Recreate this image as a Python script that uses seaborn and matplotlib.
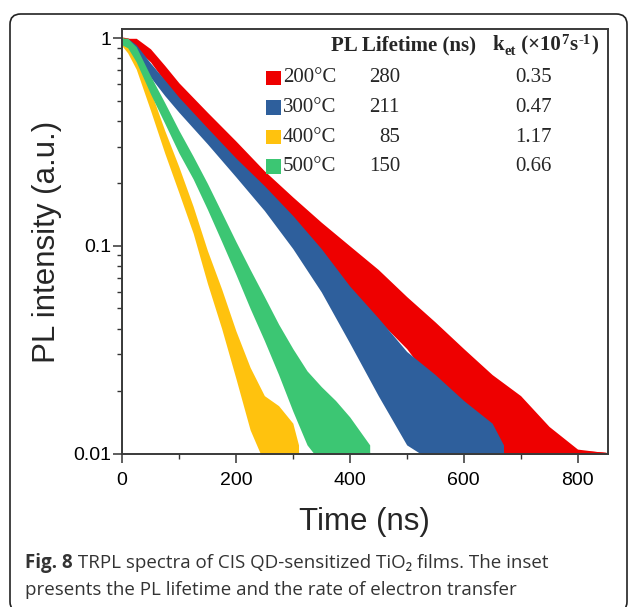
'''
    plot.py
    TRPL decay curves of CIS QD-sensitized TiO2 films (Fig. 8).
'''
import pandas as pd
import seaborn as sns
import matplotlib
matplotlib.use('Agg')
import matplotlib.pyplot as plt
from matplotlib.patches import Rectangle, FancyBboxPatch
from matplotlib.ticker import LogLocator, NullFormatter

#################################################################################
# Data (time in ns, normalised PL intensity)
#################################################################################

temps = ['200°C', '300°C', '400°C', '500°C']
lifetimes = ['280', '211', '85', '150']
k_et = ['0.35', '0.47', '1.17', '0.66']
colors = ['#EE0000', '#2E5F9C', '#FFC20E', '#3CC673']

# 200 C
t_200 = [0, 0, 10, 25, 50, 75, 100, 150, 200, 250, 300, 350, 400, 450, 500,
         550, 600, 650, 700, 750, 800, 850]
mid_200 = [0.008, 1.0, 0.99, 0.95, 0.83, 0.68, 0.56, 0.40, 0.28, 0.195, 0.14,
           0.105, 0.078, 0.059, 0.045, 0.033, 0.022, 0.017, 0.014, 0.011,
           0.0102, 0.010]
hi_200 = [0.008, 1.0, 1.0, 1.0, 0.89, 0.74, 0.61, 0.44, 0.32, 0.23, 0.172,
          0.13, 0.10, 0.077, 0.057, 0.043, 0.032, 0.024, 0.019, 0.0135, 0.0105,
          0.0101]
lo_200 = [0.008, 0.95, 0.95, 0.89, 0.77, 0.62, 0.51, 0.36, 0.245, 0.165, 0.115,
          0.082, 0.06, 0.044, 0.032, 0.021, 0.012, 0.009, 0.009, 0.009, 0.009,
          0.009]

# 300 C
t_300 = [0, 0, 10, 25, 50, 75, 100, 150, 200, 250, 300, 350, 400, 450, 500,
         550, 600, 650, 670]
mid_300 = [0.008, 1.0, 0.95, 0.87, 0.71, 0.58, 0.48, 0.34, 0.24, 0.17, 0.118,
           0.078, 0.048, 0.031, 0.020, 0.016, 0.013, 0.011, 0.010]
hi_300 = [0.008, 1.0, 1.0, 0.93, 0.76, 0.63, 0.52, 0.37, 0.265, 0.195, 0.14,
          0.097, 0.064, 0.045, 0.031, 0.024, 0.018, 0.014, 0.011]
lo_300 = [0.008, 0.92, 0.89, 0.81, 0.65, 0.53, 0.44, 0.31, 0.215, 0.148, 0.097,
          0.060, 0.034, 0.019, 0.011, 0.009, 0.009, 0.009, 0.009]

# 400 C
t_400 = [0, 0, 10, 25, 50, 75, 100, 125, 150, 175, 200, 225, 250, 275, 300, 310]
mid_400 = [0.008, 1.0, 0.92, 0.78, 0.50, 0.32, 0.21, 0.135, 0.08, 0.05, 0.030,
           0.019, 0.014, 0.012, 0.011, 0.010]
hi_400 = [0.008, 1.0, 1.0, 0.85, 0.56, 0.36, 0.24, 0.155, 0.095, 0.062, 0.039,
          0.026, 0.019, 0.017, 0.014, 0.011]
lo_400 = [0.008, 0.92, 0.85, 0.71, 0.45, 0.28, 0.18, 0.115, 0.066, 0.040, 0.023,
          0.013, 0.009, 0.009, 0.009, 0.009]

# 500 C
t_500 = [0, 0, 10, 25, 50, 75, 100, 125, 150, 175, 200, 225, 250, 275, 300,
         325, 350, 375, 400, 435]
mid_500 = [0.008, 1.0, 0.95, 0.84, 0.60, 0.44, 0.32, 0.24, 0.175, 0.125, 0.088,
           0.063, 0.045, 0.032, 0.023, 0.017, 0.014, 0.012, 0.011, 0.010]
hi_500 = [0.008, 1.0, 1.0, 0.91, 0.66, 0.49, 0.36, 0.27, 0.20, 0.145, 0.105,
          0.077, 0.057, 0.042, 0.032, 0.025, 0.021, 0.018, 0.015, 0.011]
lo_500 = [0.008, 0.93, 0.90, 0.77, 0.54, 0.39, 0.28, 0.21, 0.15, 0.105, 0.073,
          0.050, 0.035, 0.024, 0.016, 0.011, 0.009, 0.009, 0.009, 0.009]

caption_bold = 'Fig. 8'
caption_1 = ' TRPL spectra of CIS QD-sensitized TiO\u2082 films. The inset'
caption_2 = 'presents the PL lifetime and the rate of electron transfer'

#################################################################################
# Plot
#################################################################################

W, H = 629, 607


def fx(px):
    return px / W


def fy(py):
    return 1 - py / H


sns.set_style('ticks')
plt.rcParams['font.family'] = ['Liberation Sans', 'DejaVu Sans']

series = [(t_200, mid_200, hi_200, lo_200),
          (t_300, mid_300, hi_300, lo_300),
          (t_400, mid_400, hi_400, lo_400),
          (t_500, mid_500, hi_500, lo_500)]
frames = []
for name, (t, mid, hi, lo) in zip(temps, series):
    frames.append(pd.DataFrame({'time': t, 'intensity': mid, 'hi': hi,
                                'lo': lo, 'sample': name}))
df = pd.concat(frames, ignore_index=True)
palette = dict(zip(temps, colors))

fig = plt.figure(figsize=(W / 100, H / 100), dpi=100)
ax = fig.add_axes([fx(122), fy(453.5), fx(607.7) - fx(122),
                   fy(29.3) - fy(453.5)])

# noise band of each decay, then the trace itself (gives the rise at t=0)
for i, name in enumerate(temps):
    sub = df[df['sample'] == name]
    ax.fill_between(sub['time'], sub['lo'], sub['hi'], color=palette[name],
                    lw=0, zorder=2 + i)
    sns.lineplot(data=sub, x='time', y='intensity', color=palette[name],
                 sort=False, estimator=None, lw=1.3, ax=ax, legend=False,
                 zorder=2 + i)

ax.set_yscale('log')
ax.set_xlim(0, 853)
ax.set_ylim(0.01, 1.105)
ax.set_xticks([0, 200, 400, 600, 800])
ax.set_xticks([100, 300, 500, 700], minor=True)
ax.set_yticks([0.01, 0.1, 1])
ax.set_yticklabels(['0.01', '0.1', '1'])
ax.yaxis.set_minor_locator(LogLocator(base=10, subs=range(2, 10)))
ax.yaxis.set_minor_formatter(NullFormatter())

ax.tick_params(axis='both', which='major', direction='out', length=6.5,
               width=1.1, color='#333333', labelsize=14, labelcolor='black')
ax.tick_params(axis='x', which='major', pad=7)
ax.tick_params(axis='y', which='major', pad=1.5)
ax.tick_params(axis='both', which='minor', direction='out', length=3.6,
               width=1.0, color='#333333')
for sp in ax.spines.values():
    sp.set_linewidth(1.4)
    sp.set_color('#3a3a3a')
    sp.set_visible(True)
    sp.set_zorder(10)

ax.set_xlabel('Time (ns)', fontsize=22.5, labelpad=12.5)
ax.set_ylabel('PL intensity (a.u.)', fontsize=22.5, labelpad=7.5)

# inset table in place of a legend
serif = ['Liberation Serif', 'DejaVu Serif']
fs = 15
fig.text(fx(331), fy(45), 'PL Lifetime (ns)', family=serif, weight='bold',
         fontsize=fs, va='center', ha='left')
row_y = [78, 107.5, 137, 166.5]
for y, name, lt, k, c in zip(row_y, temps, lifetimes, k_et, colors):
    fig.patches.append(Rectangle((fx(266), fy(y + 7)), fx(15), 14 / H,
                                 transform=fig.transFigure, color=c, lw=0))
    fig.text(fx(283), fy(y), name, family=serif, fontsize=fs, va='center',
             ha='left')
    fig.text(fx(400), fy(y), lt, family=serif, fontsize=fs, va='center',
             ha='right')
    fig.text(fx(552), fy(y), k, family=serif, fontsize=fs, va='center',
             ha='right')

# k_et header, built piece by piece for the sub/superscripts
renderer = fig.canvas.get_renderer()
x_pos = 492
base = 50.5
pieces = [('k', fs, 0), ('et', 10.5, 4.5), (' (\u00d710', fs, 0),
          ('7', 10.5, -6), ('s', fs, 0), ('-1', 10.5, -6), (')', fs, 0)]
for txt, size, dy in pieces:
    tt = fig.text(fx(x_pos), fy(base + dy), txt, family=serif, weight='bold',
                  fontsize=size, va='baseline', ha='left')
    x_pos = tt.get_window_extent(renderer).x1 + 0.6

# rounded frame around the figure panel
fig.patches.append(FancyBboxPatch((fx(10), fy(612)), fx(617), 598 / H,
                                  boxstyle='round,pad=0,rounding_size=0.017',
                                  transform=fig.transFigure, fill=False,
                                  ec='#222222', lw=1.2))

# caption
cap_font = ['Open Sans', 'Noto Sans', 'DejaVu Sans']
t1 = fig.text(fx(25), fy(563), caption_bold, family=cap_font, weight='bold',
              fontsize=13.5, color='#333333', va='center', ha='left')
bb = t1.get_window_extent(renderer)
fig.text(bb.x1 / W, fy(563), caption_1, family=cap_font, fontsize=13.5,
         color='#333333', va='center', ha='left')
fig.text(fx(25), fy(590), caption_2, family=cap_font, fontsize=13.5,
         color='#333333', va='center', ha='left')

plt.savefig('out.png', dpi=100)
